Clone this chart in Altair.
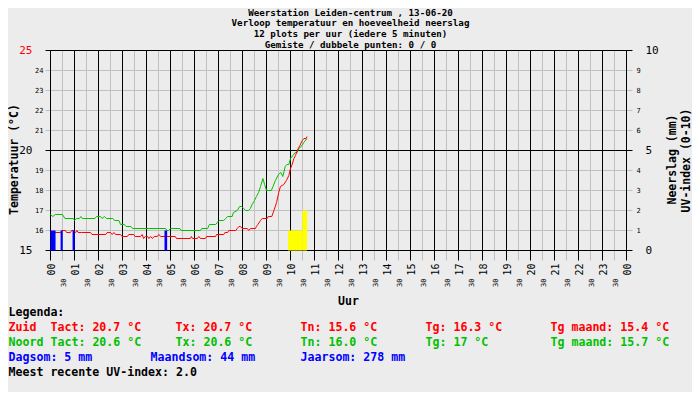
import altair as alt
import pandas as pd

# ---------------- data ----------------
title_lines = [
    "Weerstation Leiden-centrum , 13-06-20",
    "Verloop temperatuur en hoeveelheid neerslag",
    "12 plots per uur (iedere 5 minuten)",
    "Gemiste / dubbele punten: 0 / 0",
]

hours = list(range(25))
hour_labels = ["00", "01", "02", "03", "04", "05", "06", "07", "08", "09", "10", "11",
               "12", "13", "14", "15", "16", "17", "18", "19", "20", "21", "22", "23", "00"]
half_hours = [h + 0.5 for h in range(24)]
half_labels = ["30"] * 24

temp_major = [15, 20, 25]
temp_minor = [16, 17, 18, 19, 21, 22, 23, 24]
rain_major = [0, 5, 10]
rain_minor = [1, 2, 3, 4, 6, 7, 8, 9]

noord_t = [0.00, 0.10, 0.20, 0.50, 0.60, 0.95, 1.00, 1.08, 1.20, 1.27, 1.33, 1.85, 1.92, 2.08,
           2.15, 2.25, 2.33, 2.60, 2.67, 2.85, 2.92, 3.08, 3.15, 3.35, 3.42, 4.80, 4.85, 4.92,
           5.00, 5.39, 5.45, 6.25, 6.30, 6.55, 6.62, 6.88, 6.95, 7.02, 7.22, 7.30, 7.38, 7.57,
           7.62, 7.78, 7.88, 7.97, 8.05, 8.13, 8.25, 8.33, 8.40, 8.50, 8.58, 8.67, 8.75, 8.85,
           8.92, 9.00, 9.20, 9.27, 9.37, 9.50, 9.60, 9.68, 9.78, 9.85, 9.93, 10.00, 10.13,
           10.20, 10.28, 10.35, 10.48, 10.55, 10.69]
noord_v = [16.8, 16.7, 16.8, 16.8, 16.6, 16.6, 16.5, 16.6, 16.6, 16.7, 16.6, 16.6, 16.7, 16.7,
           16.6, 16.7, 16.6, 16.6, 16.5, 16.5, 16.3, 16.3, 16.2, 16.2, 16.1, 16.1, 16.0, 16.0,
           16.1, 16.1, 16.0, 16.0, 16.1, 16.1, 16.3, 16.3, 16.4, 16.5, 16.5, 16.6, 16.7, 16.7,
           16.9, 17.0, 17.2, 17.2, 17.1, 17.0, 17.0, 17.1, 17.3, 17.5, 17.7, 17.9, 18.2, 18.6,
           18.3, 18.0, 18.0, 18.2, 18.5, 18.8, 18.9, 18.7, 19.2, 19.3, 19.3, 19.6, 19.8,
           19.9, 19.9, 20.1, 20.25, 20.4, 20.6]

zuid_t = [0.00, 0.42, 0.48, 0.62, 0.67, 0.83, 0.88, 0.96, 1.05, 1.10, 1.15, 1.30, 1.67, 1.73,
          2.30, 2.36, 2.50, 2.57, 2.64, 2.71, 2.92, 2.98, 3.20, 3.26, 3.47, 3.53, 3.75, 3.82,
          3.88, 3.95, 4.05, 4.10, 4.17, 4.25, 4.32, 4.45, 4.51, 4.60, 5.20, 5.25, 5.83, 5.87,
          5.92, 6.12, 6.18, 6.25, 6.45, 6.50, 6.88, 6.92, 7.22, 7.27, 7.38, 7.43, 7.72, 7.78,
          7.85, 7.92, 7.98, 8.20, 8.26, 8.33, 8.54, 8.58, 8.64, 8.75, 8.82, 9.03, 9.07, 9.22,
          9.31, 9.42, 9.51, 9.58, 9.72, 9.83, 9.93, 10.00, 10.07, 10.14, 10.21, 10.28, 10.39,
          10.49, 10.56, 10.65, 10.69]
zuid_v = [15.9, 15.9, 16.0, 16.0, 15.9, 15.9, 16.0, 16.0, 15.9, 16.0, 15.9, 15.9, 15.9, 15.8,
          15.8, 15.9, 15.9, 15.8, 15.9, 15.8, 15.8, 15.7, 15.7, 15.8, 15.8, 15.7, 15.7, 15.8,
          15.6, 15.7, 15.7, 15.6, 15.7, 15.6, 15.7, 15.7, 15.8, 15.7, 15.7, 15.6, 15.6, 15.7,
          15.6, 15.6, 15.7, 15.6, 15.6, 15.7, 15.7, 15.8, 15.8, 15.9, 15.9, 16.0, 16.0, 16.1,
          16.2, 16.2, 16.1, 16.1, 16.0, 16.1, 16.1, 16.2, 16.3, 16.5, 16.6, 16.6, 16.7, 16.7,
          17.0, 17.4, 17.9, 18.2, 18.3, 18.5, 18.75, 19.1, 19.3, 19.6, 19.75, 20.0, 20.25,
          20.5, 20.6, 20.6, 20.7]

rain_start = [0.00, 0.42, 0.92, 4.75]
rain_end = [0.21, 0.51, 1.01, 4.86]
rain_mm = [1, 1, 1, 1]

uv_start = [9.90, 10.49]
uv_end = [10.49, 10.69]
uv_val = [1, 2]

legend_zuid = ["Zuid", "Tact: 20.7 °C", "Tx: 20.7 °C", "Tn: 15.6 °C", "Tg: 16.3 °C", "Tg maand: 15.4 °C"]
legend_noord = ["Noord", "Tact: 20.6 °C", "Tx: 20.6 °C", "Tn: 16.0 °C", "Tg: 17 °C", "Tg maand: 15.7 °C"]
legend_rain = ["Dagsom: 5 mm", "Maandsom: 44 mm", "Jaarsom: 278 mm"]
legend_head = "Legenda:"
legend_uv = "Meest recente UV-index: 2.0"

# ---------------- style ----------------
MONO = "DejaVu Sans Mono"
BG = "#ececec"
RED = "#ff0000"
GREEN = "#00c000"
BLUE = "#0000ff"
YEL = "#ffff00"
GRAY = "#c0c0c0"
W, H = 587, 200

xs = alt.Scale(domain=[-5 / 24, 24.25], nice=False, zero=False)
ys = alt.Scale(domain=[15, 25], nice=False, zero=False)
rs = alt.Scale(domain=[0, 10], nice=False, zero=False)

one = pd.DataFrame({"k": [0]})


def txt(s, x, y, color="black", size=11.6, weight="bold", align="left", angle=0,
        baseline="middle", line_height=None):
    kw = dict(text=s, align=align, baseline=baseline, font=MONO, fontSize=size,
              fontWeight=weight, color=color, angle=angle)
    if line_height is not None:
        kw["lineHeight"] = line_height
    return alt.Chart(one).mark_text(**kw).encode(x=alt.value(x), y=alt.value(y))


# grid
gray_h = alt.Chart(pd.DataFrame({"t": temp_minor})).mark_rule(color=GRAY, strokeWidth=1).encode(
    y=alt.Y("t:Q", scale=ys, axis=None), x=alt.value(0), x2=alt.value(W))
gray_v = alt.Chart(pd.DataFrame({"h": half_hours})).mark_rule(color=GRAY, strokeWidth=1).encode(
    x=alt.X("h:Q", scale=xs, axis=None), y=alt.value(0), y2=alt.value(H + 10))
black_v = alt.Chart(pd.DataFrame({"h": hours})).mark_rule(color="black", strokeWidth=1).encode(
    x=alt.X("h:Q", scale=xs, axis=None), y=alt.value(0), y2=alt.value(H + 10))
black_h = alt.Chart(pd.DataFrame({"t": temp_major})).mark_rule(color="black", strokeWidth=1).encode(
    y=alt.Y("t:Q", scale=ys, axis=None), x=alt.value(0), x2=alt.value(W))

# lines
green_line = alt.Chart(pd.DataFrame({"t": noord_t, "v": noord_v})).mark_line(
    color=GREEN, strokeWidth=1).encode(
    x=alt.X("t:Q", scale=xs, axis=None), y=alt.Y("v:Q", scale=ys, axis=None))
red_line = alt.Chart(pd.DataFrame({"t": zuid_t, "v": zuid_v})).mark_line(
    color=RED, strokeWidth=1).encode(
    x=alt.X("t:Q", scale=xs, axis=None), y=alt.Y("v:Q", scale=ys, axis=None))

# tick labels
tmaj = alt.Chart(pd.DataFrame({"v": temp_major})).mark_text(
    align="right", baseline="middle", font=MONO, fontSize=11).encode(
    y=alt.Y("v:Q", scale=ys, axis=None), x=alt.value(-13), text=alt.Text("v:Q"),
    color=alt.condition(alt.datum.v == 25, alt.value(RED), alt.value("black")))
tmin = alt.Chart(pd.DataFrame({"v": temp_minor})).mark_text(
    align="right", baseline="middle", font=MONO, fontSize=7, color="black").encode(
    y=alt.Y("v:Q", scale=ys, axis=None), x=alt.value(-2), text=alt.Text("v:Q"))
hlab = alt.Chart(pd.DataFrame({"h": hours, "l": hour_labels})).mark_text(
    align="right", baseline="middle", font=MONO, fontSize=10, angle=270, dy=1.5,
    color="black").encode(
    x=alt.X("h:Q", scale=xs, axis=None), y=alt.value(H + 13), text="l:N")
hhlab = alt.Chart(pd.DataFrame({"h": half_hours, "l": half_labels})).mark_text(
    align="right", baseline="middle", font=MONO, fontSize=7, angle=270, dy=1,
    color="black").encode(
    x=alt.X("h:Q", scale=xs, axis=None), y=alt.value(H + 28), text="l:N")

texts = []
texts.append(txt(title_lines, 305, -42, size=9.2, align="center", baseline="top",
                 line_height=10.75))
texts.append(txt("Temperatuur (°C)", -31, 109, size=11.5, align="center", angle=270))
texts.append(txt("Neerslag (mm)", 627, 109, size=11.5, align="center", angle=270))
texts.append(txt("UV-index (0-10)", 641, 110, size=11.5, align="center", angle=270))
texts.append(txt("Uur", 303, 251, size=11.5, align="center"))
texts.append(txt(legend_head, -37, 262))
cols = [-37, 5, 130, 255, 380, 505]
for x, s in zip(cols, legend_zuid):
    texts.append(txt(s, x, 277, color=RED))
for x, s in zip(cols, legend_noord):
    texts.append(txt(s, x, 292, color=GREEN))
for x, s in zip([-37, 105, 255], legend_rain):
    texts.append(txt(s, x, 307, color=BLUE))
texts.append(txt(legend_uv, -37, 322))

temp = alt.layer(gray_h, gray_v, black_v, black_h, green_line, red_line,
                 tmaj, tmin, hlab, hhlab, *texts)

# rain / uv layer (right scale)
uv_bars = alt.Chart(pd.DataFrame({"s": uv_start, "e": uv_end, "v": uv_val})).mark_rect(
    color=YEL).encode(
    x=alt.X("s:Q", scale=xs, axis=None), x2="e:Q",
    y=alt.Y("v:Q", scale=rs, axis=None), y2=alt.datum(0))
rain_bars = alt.Chart(pd.DataFrame({"s": rain_start, "e": rain_end, "v": rain_mm})).mark_rect(
    color=BLUE).encode(
    x=alt.X("s:Q", scale=xs, axis=None), x2="e:Q",
    y=alt.Y("v:Q", scale=rs, axis=None), y2=alt.datum(0))
rmaj = alt.Chart(pd.DataFrame({"v": rain_major})).mark_text(
    align="left", baseline="middle", font=MONO, fontSize=11, color="black").encode(
    y=alt.Y("v:Q", scale=rs, axis=None), x=alt.value(600), text=alt.Text("v:Q"))
rmin = alt.Chart(pd.DataFrame({"v": rain_minor})).mark_text(
    align="left", baseline="middle", font=MONO, fontSize=7, color="black").encode(
    y=alt.Y("v:Q", scale=rs, axis=None), x=alt.value(591), text=alt.Text("v:Q"))

rain = alt.layer(uv_bars, rain_bars, rmaj, rmin)

chart = alt.layer(temp, rain).resolve_scale(y="independent").properties(
    width=W, height=H, background=BG,
    padding={"left": 37.5, "top": 42.5, "right": 59.5, "bottom": 141.5},
    autosize=alt.AutoSizeParams(type="none"),
).configure_view(strokeWidth=0)

chart.save("out.html", embed_options={"renderer": "svg", "actions": False})
